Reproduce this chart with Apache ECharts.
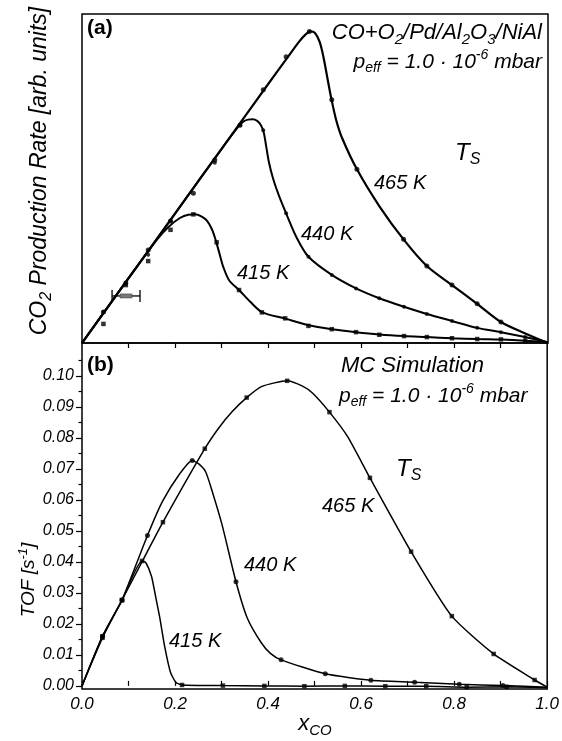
<!DOCTYPE html>
<html><head><meta charset="utf-8">
<script src="https://cdn.jsdelivr.net/npm/echarts@6/dist/echarts.min.js"></script>
<style>html,body{margin:0;padding:0;background:#fff}#c{width:562px;height:741px}</style>
</head><body><div id="c"></div>
<script>
// ---------- Panel (a): experiment, CO2 production rate (arb. units) vs x_CO ----------
const a465Markers = [[0.046,0.094],[0.094,0.182],[0.142,0.283],[0.190,0.371],[0.239,0.455],[0.285,0.556],[0.339,0.662],[0.389,0.770],[0.438,0.870],[0.488,0.947],[0.536,0.739],[0.590,0.528],[0.690,0.315],[0.740,0.234],[0.794,0.176],[0.848,0.119],[0.899,0.064]];
const a465Curve = [[0,0],[0.1,0.197],[0.2,0.394],[0.3,0.591],[0.4,0.788],[0.44,0.866],[0.466,0.916],[0.480,0.938],[0.490,0.947],[0.500,0.942],[0.510,0.915],[0.518,0.870],[0.526,0.810],[0.534,0.750],[0.545,0.680],[0.557,0.627],[0.590,0.528],[0.639,0.414],[0.690,0.315],[0.740,0.234],[0.794,0.176],[0.848,0.119],[0.899,0.064],[0.950,0.030],[1.0,0.0]];
const a440Markers = [[0.046,0.094],[0.094,0.180],[0.142,0.268],[0.190,0.371],[0.285,0.548],[0.339,0.662],[0.389,0.647],[0.438,0.394],[0.486,0.262],[0.536,0.207],[0.588,0.166],[0.638,0.136],[0.691,0.110],[0.740,0.088],[0.794,0.067],[0.848,0.046],[0.899,0.033],[0.951,0.018]];
const a440Curve = [[0,0],[0.1,0.197],[0.2,0.394],[0.3,0.591],[0.335,0.657],[0.346,0.673],[0.356,0.679],[0.366,0.680],[0.376,0.675],[0.384,0.662],[0.390,0.640],[0.395,0.600],[0.401,0.550],[0.410,0.500],[0.422,0.450],[0.438,0.394],[0.460,0.322],[0.486,0.262],[0.536,0.207],[0.588,0.166],[0.638,0.136],[0.691,0.110],[0.740,0.088],[0.794,0.067],[0.848,0.046],[0.899,0.033],[0.951,0.018],[1.0,0.002]];
const a415Markers = [[0.046,0.058],[0.094,0.176],[0.142,0.249],[0.190,0.344],[0.239,0.391],[0.289,0.306],[0.337,0.161],[0.386,0.093],[0.436,0.075],[0.486,0.052],[0.536,0.042],[0.588,0.033],[0.638,0.025],[0.691,0.021],[0.740,0.018],[0.794,0.0145],[0.848,0.012],[0.899,0.011],[0.951,0.007]];
const a415Curve = [[0,0],[0.08,0.158],[0.160,0.313],[0.185,0.352],[0.210,0.380],[0.228,0.390],[0.242,0.391],[0.256,0.385],[0.268,0.372],[0.279,0.345],[0.287,0.312],[0.295,0.272],[0.303,0.232],[0.316,0.190],[0.337,0.161],[0.3605,0.126],[0.386,0.094],[0.436,0.074],[0.486,0.054],[0.536,0.042],[0.588,0.033],[0.638,0.026],[0.691,0.021],[0.740,0.018],[0.794,0.0145],[0.848,0.012],[0.899,0.0105],[0.951,0.007],[1.0,0.002]];
// x error bar: [x, y, half-width]
const aErrorBar = [[0.0945,0.143,0.030]];

// ---------- Panel (b): MC simulation, TOF [s^-1] vs x_CO ----------
const b465Markers = [[0.044,0.0160],[0.086,0.0277],[0.174,0.0528],[0.264,0.0765],[0.354,0.0930],[0.441,0.0984],[0.532,0.0883],[0.619,0.0671],[0.7075,0.0433],[0.795,0.0225],[0.885,0.0103],[0.973,0.0019]];
const b465Curve = [[0,0],[0.044,0.0160],[0.086,0.0277],[0.130,0.0403],[0.174,0.0528],[0.264,0.0765],[0.294,0.0832],[0.323,0.0885],[0.354,0.0930],[0.387,0.0966],[0.441,0.0984],[0.475,0.0966],[0.496,0.0944],[0.532,0.0883],[0.571,0.0804],[0.619,0.0671],[0.7075,0.0433],[0.795,0.0225],[0.885,0.0103],[0.973,0.0019],[1.0,-0.0004]];
const b440Markers = [[0.044,0.0160],[0.086,0.0277],[0.1407,0.0485],[0.237,0.0727],[0.331,0.0336],[0.428,0.0084],[0.523,0.0039],[0.621,0.0018],[0.715,0.0012],[0.811,0.0005],[0.905,0.0001]];
const b440Curve = [[0,0],[0.044,0.0160],[0.086,0.0277],[0.1407,0.0485],[0.173,0.0595],[0.2086,0.0681],[0.237,0.0727],[0.251,0.0716],[0.266,0.0690],[0.280,0.0627],[0.301,0.0520],[0.331,0.0336],[0.355,0.0220],[0.385,0.0140],[0.405,0.0105],[0.428,0.0084],[0.523,0.0039],[0.621,0.0018],[0.715,0.0012],[0.811,0.0005],[0.905,0.0001],[1.0,-0.0004]];
const b415Markers = [[0.044,0.0155],[0.086,0.0276],[0.129,0.0403],[0.215,0.0003],[0.303,0.0001],[0.392,0.0000],[0.478,-0.0001],[0.565,0.0000],[0.652,-0.0001],[0.740,-0.0001],[0.827,-0.0004],[0.913,-0.0003]];
const b415Curve = [[0,0],[0.044,0.0155],[0.086,0.0276],[0.129,0.0403],[0.137,0.0398],[0.1495,0.0353],[0.158,0.0290],[0.167,0.0222],[0.178,0.0125],[0.190,0.0045],[0.2015,0.0012],[0.215,0.0003],[0.303,0.0001],[0.392,0.0],[0.478,-0.0001],[0.565,0.0],[0.652,-0.0001],[0.740,-0.0001],[0.827,-0.0004],[0.913,-0.0003],[1.0,-0.0006]];

// ---------- Tick labels ----------
const xTickValues = [0, 0.2, 0.4, 0.6, 0.8, 1.0];
const xTickLabels = ['0.0','0.2','0.4','0.6','0.8','1.0'];
const xTopTickValues = [0.1,0.2,0.3,0.4,0.5,0.6,0.7,0.8,0.9];
const xMinorValues = [0.1,0.3,0.5,0.7,0.9];
const yTickValues = [0,0.01,0.02,0.03,0.04,0.05,0.06,0.07,0.08,0.09,0.10];
const yTickLabels = ['0.00','0.01','0.02','0.03','0.04','0.05','0.06','0.07','0.08','0.09','0.10'];
const yMinorValues = [0.005,0.015,0.025,0.035,0.045,0.055,0.065,0.075,0.085,0.095,0.105];

const FONT = '"Liberation Sans", Arial, Helvetica, sans-serif';
const chart = echarts.init(document.getElementById('c'), null, {renderer:'canvas'});

function richSet(size){
  const sub = Math.round(size*0.68);
  return {
    n:{fontSize:size,fontStyle:'italic',fontFamily:FONT,lineHeight:size+6,fill:'#000',color:'#000'},
    b:{fontSize:size,fontWeight:'bold',fontFamily:FONT,lineHeight:size+6,fill:'#000',color:'#000'},
    s:{fontSize:sub,fontStyle:'italic',fontFamily:FONT,lineHeight:Math.round(size*0.7),verticalAlign:'bottom',fill:'#000',color:'#000'},
    p:{fontSize:sub,fontStyle:'italic',fontFamily:FONT,lineHeight:Math.round(size*0.75),verticalAlign:'top',fill:'#000',color:'#000'}
  };
}
function txt(x,y,text,size,align,rot){
  return {type:'text', x:x, y:y, rotation:rot||0, z:100,
    style:{text:text, rich:richSet(size), fill:'#000', font:'italic '+size+'px '+FONT,
      align:align||'left', verticalAlign:'middle'}};
}
const sortX = a => a.slice().sort((p,q)=>p[0]-q[0]);

function lineS(data, xi, yi, w, sm){
  return {type:'line', xAxisIndex:xi, yAxisIndex:yi, data:sortX(data), showSymbol:false, symbol:'none',
    smooth:sm, lineStyle:{color:'#000', width:w}, z:3, silent:true};
}
function dotS(data, xi, yi, sym, size){
  return {type:'scatter', xAxisIndex:xi, yAxisIndex:yi, data:data, symbol:sym, symbolSize:size,
    itemStyle:{color:'#000'}, z:4, silent:true};
}
const axisTxt = {color:'#000', fontFamily:FONT, fontStyle:'italic', fontSize:16};

const option = {
  animation:false,
  backgroundColor:'#fff',
  grid:[
    {left:82, right:14, top:14, height:329, show:true, borderColor:'#000', borderWidth:1.5, backgroundColor:'transparent'},
    {left:82, right:14, top:343, height:346, show:true, borderColor:'#000', borderWidth:1.5, backgroundColor:'transparent'}
  ],
  xAxis:[
    {gridIndex:0, type:'value', min:0, max:1, axisLine:{show:false}, axisTick:{show:false}, axisLabel:{show:false}, splitLine:{show:false}},
    {gridIndex:1, type:'value', min:0, max:1, position:'bottom',
      axisLine:{show:false},
      axisTick:{show:true, inside:true, length:5, lineStyle:{color:'#000', width:1.2}, customValues:xTickValues},
      axisLabel:{show:true, margin:7, customValues:xTickValues, ...axisTxt, fontSize:17,
        formatter:v=>{const i=xTickValues.findIndex(t=>Math.abs(t-v)<1e-9); return i>=0?xTickLabels[i]:'';}},
      splitLine:{show:false}},
    {gridIndex:1, type:'value', min:0, max:1, position:'bottom',
      axisLine:{show:false}, axisLabel:{show:false}, splitLine:{show:false},
      axisTick:{show:true, inside:true, length:5, lineStyle:{color:'#000', width:1.2}, customValues:xMinorValues}},
    {gridIndex:1, type:'value', min:0, max:1, position:'top',
      axisLine:{show:false}, axisLabel:{show:false}, splitLine:{show:false},
      axisTick:{show:true, inside:true, length:5, lineStyle:{color:'#000', width:1.2}, customValues:xTopTickValues}}
  ],
  yAxis:[
    {gridIndex:0, type:'value', min:0, max:1, axisLine:{show:false}, axisTick:{show:false}, axisLabel:{show:false}, splitLine:{show:false}},
    {gridIndex:1, type:'value', min:-0.001, max:0.1106, position:'left',
      axisLine:{show:false},
      axisTick:{show:true, inside:false, length:6, lineStyle:{color:'#000', width:1.2}, customValues:yTickValues},
      axisLabel:{show:true, margin:8, customValues:yTickValues, ...axisTxt,
        formatter:v=>{const i=yTickValues.findIndex(t=>Math.abs(t-v)<1e-9); return i>=0?yTickLabels[i]:'';}},
      splitLine:{show:false}},
    {gridIndex:1, type:'value', min:-0.001, max:0.1106, position:'left',
      axisLine:{show:false}, axisLabel:{show:false}, splitLine:{show:false},
      axisTick:{show:true, inside:false, length:3.5, lineStyle:{color:'#000', width:1.2}, customValues:yMinorValues}}
  ],
  series:[
    lineS(a465Curve,0,0,2.2,0.3), lineS(a440Curve,0,0,2.0,0.3), lineS(a415Curve,0,0,2.0,0.3),
    dotS(a465Markers,0,0,'circle',5), dotS(a440Markers,0,0,'circle',4), dotS(a415Markers,0,0,'rect',4.5),
    {type:'custom', xAxisIndex:0, yAxisIndex:0, data:aErrorBar, encode:{x:0,y:1}, z:5, silent:true,
      renderItem:(params, api)=>{
        const c = api.coord([api.value(0), api.value(1)]);
        const l = api.coord([api.value(0)-api.value(2), api.value(1)]);
        const r = api.coord([api.value(0)+api.value(2), api.value(1)]);
        const st = {stroke:'#000', lineWidth:1.3};
        return {type:'group', children:[
          {type:'line', shape:{x1:l[0],y1:l[1],x2:r[0],y2:r[1]}, style:st},
          {type:'line', shape:{x1:l[0],y1:l[1]-6,x2:l[0],y2:l[1]+6}, style:st},
          {type:'line', shape:{x1:r[0],y1:r[1]-6,x2:r[0],y2:r[1]+6}, style:st},
          {type:'rect', shape:{x:c[0]-6,y:c[1]-2,width:12,height:4}, style:{fill:'#777', stroke:'#444', lineWidth:0.6}}
        ]};
      }},
    lineS(b465Curve,1,1,1.5,0.2), lineS(b440Curve,1,1,1.5,0.2), lineS(b415Curve,1,1,1.5,0.2),
    dotS(b465Markers,1,1,'rect',4.5), dotS(b440Markers,1,1,'circle',5), dotS(b415Markers,1,1,'rect',4.5)
  ],
  graphic:[
    txt(87,28,'{b|(a)}',21),
    txt(542,33,'{n|CO+O}{s|2}{n|/Pd/Al}{s|2}{n|O}{s|3}{n|/NiAl}',22,'right'),
    txt(542,62,'{n|p}{s|eff}{n| = 1.0 · 10}{p|-6}{n| mbar}',21,'right'),
    txt(455,153,'{n|T}{s|S}',24),
    txt(374,183,'{n|465 K}',20),
    txt(301,234,'{n|440 K}',20),
    txt(237,273,'{n|415 K}',20),
    txt(87,365,'{b|(b)}',21),
    txt(341,366,'{n|MC Simulation}',22),
    txt(339,396,'{n|p}{s|eff}{n| = 1.0 · 10}{p|-6}{n| mbar}',21),
    txt(396,469,'{n|T}{s|S}',24),
    txt(322,506,'{n|465 K}',20),
    txt(244,565,'{n|440 K}',20),
    txt(169,641,'{n|415 K}',20),
    txt(40,171,'{n|CO}{s|2}{n| Production Rate [arb. units]}',23,'center',Math.PI/2),
    txt(29,580,'{n|TOF [s}{p|-1}{n|]}',19,'center',Math.PI/2),
    txt(315,724,'{n|x}{s|CO}',22,'center')
  ]
};
chart.setOption(option);
</script>
</body></html>
